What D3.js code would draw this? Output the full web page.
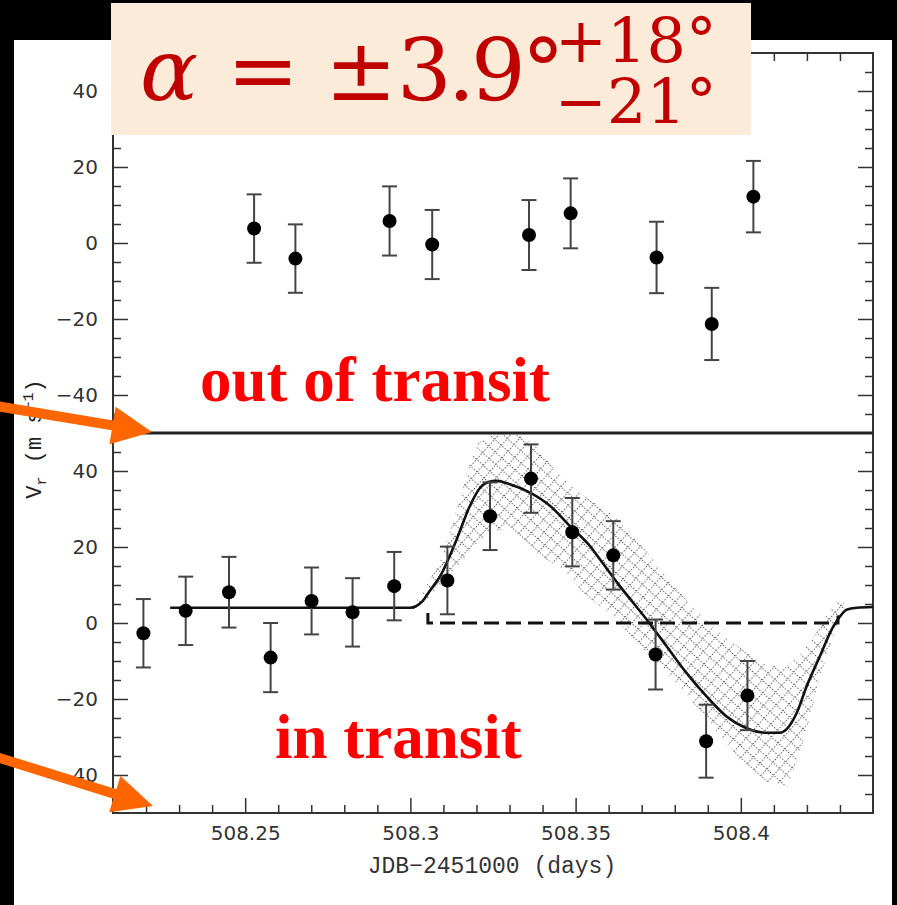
<!DOCTYPE html>
<html>
<head>
<meta charset="utf-8">
<script src="https://cdn.jsdelivr.net/npm/d3@7"></script>
<style>
  html, body { margin: 0; padding: 0; background: #000; }
  svg { display: block; }
</style>
</head>
<body>
<svg id="chart" width="897" height="905"></svg>
<script>
// ---- Radial velocities outside the transit (top panel) ----
const outTimes = [508.2527, 508.2652, 508.2937, 508.3066, 508.3359, 508.3485, 508.3745, 508.3912, 508.4038];
const outVel   = [3.8, -4.1, 5.8, -0.4, 2.1, 7.8, -3.8, -21.3, 12.2];
const outErr   = [9.0, 9.0, 9.1, 9.1, 9.2, 9.2, 9.4, 9.5, 9.4];

// ---- Radial velocities during the transit (bottom panel) ----
const inTimes = [508.2192, 508.2320, 508.2451, 508.2577, 508.2701, 508.2825, 508.2951, 508.3112,
                 508.3241, 508.3365, 508.3490, 508.3614, 508.3742, 508.3895, 508.4020];
const inVel   = [-2.7, 3.2, 8.1, -9.1, 5.8, 2.8, 9.7, 11.2, 28.1, 38.0, 23.9, 17.8, -8.3, -31.1, -19.1];
const inErr   = [9.0, 9.0, 9.3, 9.1, 8.8, 9.0, 9.0, 8.9, 8.9, 9.0, 9.0, 9.0, 9.2, 9.6, 9.1];

// ---- Best-fit Rossiter-McLaughlin model ----
const modelTimes = [508.2273, 508.2666, 508.2999, 508.3017, 508.3035, 508.3059, 508.3090, 508.3140,
                    508.3180, 508.3211, 508.3236, 508.3261, 508.3301, 508.3362, 508.3423, 508.3483,
                    508.3544, 508.3574, 508.3634, 508.3715, 508.3776, 508.3836, 508.3897, 508.3957,
                    508.4018, 508.4078, 508.4118, 508.4138, 508.4169, 508.4199, 508.4239, 508.4280,
                    508.4300, 508.4320, 508.4351, 508.4400];
const modelVel   = [4.0, 4.0, 4.0, 4.4, 5.6, 8.5, 12.3, 22.0, 30.8, 35.6, 37.1, 37.4, 36.5, 34.3, 30.8, 25.5,
                    20.2, 16.7, 9.7, 0.9, -6.2, -13.2, -19.4, -24.6, -27.7, -28.9, -28.9, -28.0, -23.7, -16.7,
                    -8.8, -0.9, 1.7, 3.5, 4.0, 4.2];

// ---- Envelope of the model family (uncertainty mesh) ----
const bandUpperT = [508.2999, 508.3044, 508.3090, 508.3129, 508.3156, 508.3180, 508.3205, 508.3241, 508.3286,
                    508.3332, 508.3377, 508.3441, 508.3522, 508.3604, 508.3686, 508.3764, 508.3855, 508.3937,
                    508.4019, 508.4079, 508.4134, 508.4179, 508.4225, 508.4264, 508.4294, 508.4324];
const bandUpperV = [3.0, 9.3, 16.2, 26.7, 34.6, 42.3, 47.3, 49.5, 49.6, 49.4, 46.8, 39.9, 33.6, 29.1, 22.0,
                    13.3, 4.0, -2.6, -7.8, -11.0, -11.8, -8.4, -3.1, 3.0, 6.1, 4.6];
const bandLowerT = [508.2999, 508.3059, 508.3120, 508.3190, 508.3250, 508.3301, 508.3341, 508.3392, 508.3462,
                    508.3522, 508.3613, 508.3716, 508.3816, 508.3916, 508.3998, 508.4079, 508.4140, 508.4179,
                    508.4209, 508.4240, 508.4279, 508.4306, 508.4324];
const bandLowerV = [3.0, 6.7, 12.2, 20.1, 24.1, 25.1, 22.0, 17.7, 14.1, 8.0, 1.7, -7.8, -16.8, -27.3, -36.0,
                    -41.8, -43.0, -34.2, -24.7, -14.2, -3.6, 3.0, 4.6];

// ---- Reference (no-anomaly) level during the transit ----
const refTimes = [508.3053, 508.3053, 508.4294, 508.4294];
const refVel   = [2.6, 0, 0, 2.0];

// ---- Axis ticks ----
const xMajorTicks = [508.25, 508.3, 508.35, 508.4];
const xMinorTicks = [508.22, 508.23, 508.24, 508.26, 508.27, 508.28, 508.29, 508.31, 508.32, 508.33,
                     508.34, 508.36, 508.37, 508.38, 508.39, 508.41, 508.42, 508.43];
const yMajorTicks = [-40, -20, 0, 20, 40];
const yMinorTicks = [-45, -35, -30, -25, -15, -10, -5, 5, 10, 15, 25, 30, 35, 45];

const W = 897, H = 905;
const svg = d3.select("#chart");

// Page backdrop
svg.append("rect").attr("width", W).attr("height", H).attr("fill", "#000");
svg.append("rect").attr("x", 14).attr("y", 40).attr("width", 878).attr("height", H - 40).attr("fill", "#fff");

// Scales: shared time axis, two stacked velocity panels
const x = d3.scaleLinear().domain([508.21, 508.44]).range([113, 873]);
const yTop = d3.scaleLinear().domain([-50, 50]).range([433, 53]);
const yBot = d3.scaleLinear().domain([-50, 50]).range([813, 433]);

const ink = "#333";
const tickFont = "DejaVu Sans";

// Dotted crosshatch used for the model mesh
const defs = svg.append("defs");
const pat = defs.append("pattern")
  .attr("id", "mesh")
  .attr("patternUnits", "userSpaceOnUse")
  .attr("width", 9).attr("height", 9)
  .attr("patternTransform", "rotate(42)");
pat.append("line").attr("x1", 0).attr("y1", 4.5).attr("x2", 9).attr("y2", 4.5)
  .attr("stroke", "#555").attr("stroke-width", 1).attr("stroke-dasharray", "1.3 1.7");
pat.append("line").attr("x1", 4.5).attr("y1", 0).attr("x2", 4.5).attr("y2", 9)
  .attr("stroke", "#555").attr("stroke-width", 1).attr("stroke-dasharray", "1.3 1.7");

// Model envelope
const bandPts = bandUpperT.map((t, i) => [t, bandUpperV[i]])
  .concat(bandLowerT.map((t, i) => [t, bandLowerV[i]]).reverse());
svg.append("path")
  .attr("d", d3.line().x(d => x(d[0])).y(d => yBot(d[1])).curve(d3.curveLinearClosed)(bandPts))
  .attr("fill", "url(#mesh)")
  .attr("stroke", "none");

// Axes helper
function styleAxis(g) {
  g.select(".domain").remove();
  g.selectAll(".tick line").attr("stroke", ink).attr("stroke-width", 1.5);
  g.selectAll(".tick text").attr("fill", ink).attr("font-family", tickFont).attr("font-size", 20);
}

const fmtY = d3.format("d");
const fmtX = d3.format("~f");

[yTop, yBot].forEach(ys => {
  svg.append("g").attr("transform", "translate(113,0)")
    .call(d3.axisLeft(ys).tickValues(yMajorTicks).tickSize(-15).tickPadding(15).tickFormat(fmtY))
    .call(styleAxis);
  svg.append("g").attr("transform", "translate(113,0)")
    .call(d3.axisLeft(ys).tickValues(yMinorTicks).tickSize(-8).tickFormat(""))
    .call(styleAxis);
  svg.append("g").attr("transform", "translate(873,0)")
    .call(d3.axisRight(ys).tickValues(yMajorTicks).tickSize(-15).tickFormat(""))
    .call(styleAxis);
  svg.append("g").attr("transform", "translate(873,0)")
    .call(d3.axisRight(ys).tickValues(yMinorTicks).tickSize(-8).tickFormat(""))
    .call(styleAxis);
});

svg.append("g").attr("transform", "translate(0,813)")
  .call(d3.axisBottom(x).tickValues(xMajorTicks).tickSize(-15).tickPadding(13).tickFormat(fmtX))
  .call(styleAxis);
svg.append("g").attr("transform", "translate(0,813)")
  .call(d3.axisBottom(x).tickValues(xMinorTicks).tickSize(-8).tickFormat(""))
  .call(styleAxis);
svg.append("g").attr("transform", "translate(0,53)")
  .call(d3.axisTop(x).tickValues(xMajorTicks).tickSize(-15).tickFormat(""))
  .call(styleAxis);
svg.append("g").attr("transform", "translate(0,53)")
  .call(d3.axisTop(x).tickValues(xMinorTicks).tickSize(-8).tickFormat(""))
  .call(styleAxis);

// Frame and panel divider
svg.append("rect").attr("x", 113).attr("y", 53).attr("width", 760).attr("height", 760)
  .attr("fill", "none").attr("stroke", ink).attr("stroke-width", 2);
svg.append("line").attr("x1", 113).attr("x2", 873).attr("y1", yBot(50)).attr("y2", yBot(50))
  .attr("stroke", "#222").attr("stroke-width", 3);

// Reference level (dashed)
svg.append("path")
  .attr("d", d3.line().x((d, i) => x(refTimes[i])).y((d, i) => yBot(refVel[i]))(refVel))
  .attr("fill", "none").attr("stroke", "#111").attr("stroke-width", 3)
  .attr("stroke-dasharray", "15 7");

// Model curve
svg.append("path")
  .attr("d", d3.line().x((d, i) => x(modelTimes[i])).y((d, i) => yBot(modelVel[i]))
    .curve(d3.curveMonotoneX)(modelVel))
  .attr("fill", "none").attr("stroke", "#111").attr("stroke-width", 2.6);

// Data points with error bars
function drawPoints(times, vel, err, ys) {
  const g = svg.append("g");
  const pts = times.map((t, i) => ({ t, v: vel[i], e: err[i] }));
  const bars = g.selectAll("g.eb").data(pts).join("g").attr("class", "eb")
    .attr("stroke", "#444").attr("stroke-width", 2);
  bars.append("line").attr("x1", d => x(d.t)).attr("x2", d => x(d.t))
    .attr("y1", d => ys(d.v - d.e)).attr("y2", d => ys(d.v + d.e));
  bars.append("line").attr("x1", d => x(d.t) - 7.5).attr("x2", d => x(d.t) + 7.5)
    .attr("y1", d => ys(d.v + d.e)).attr("y2", d => ys(d.v + d.e));
  bars.append("line").attr("x1", d => x(d.t) - 7.5).attr("x2", d => x(d.t) + 7.5)
    .attr("y1", d => ys(d.v - d.e)).attr("y2", d => ys(d.v - d.e));
  g.selectAll("circle").data(pts).join("circle")
    .attr("cx", d => x(d.t)).attr("cy", d => ys(d.v)).attr("r", 7).attr("fill", "#000");
}
drawPoints(outTimes, outVel, outErr, yTop);
drawPoints(inTimes, inVel, inErr, yBot);

// Axis titles
svg.append("text")
  .attr("x", 492).attr("y", 873)
  .attr("text-anchor", "middle")
  .attr("font-family", "Liberation Mono").attr("font-size", 23).attr("fill", ink)
  .text("JDB\u22122451000 (days)");

const yTitle = svg.append("text")
  .attr("transform", "translate(41,439) rotate(-90)")
  .attr("text-anchor", "middle")
  .attr("font-family", "Liberation Mono").attr("font-size", 22).attr("fill", "#222");
yTitle.append("tspan").text("V");
yTitle.append("tspan").attr("font-size", 15).attr("dy", 5).text("r");
yTitle.append("tspan").attr("dy", -5).text(" (m s");
yTitle.append("tspan").attr("font-size", 15).attr("dy", -8).text("\u22121");
yTitle.append("tspan").attr("dy", 8).text(")");

// Panel labels
svg.append("text").attr("x", 200).attr("y", 401)
  .attr("font-family", "Liberation Serif").attr("font-weight", "bold").attr("font-size", 63)
  .attr("fill", "#ff0000").text("out of transit");
svg.append("text").attr("x", 275).attr("y", 758)
  .attr("font-family", "Liberation Serif").attr("font-weight", "bold").attr("font-size", 63)
  .attr("fill", "#ff0000").text("in transit");

// Result box: spin-orbit angle with asymmetric uncertainties
svg.append("rect").attr("x", 111).attr("y", 3).attr("width", 640).attr("height", 132).attr("fill", "#fdebda");
const red = "#c00000";
function formula(txt, xPos, base, size, opts = {}) {
  const t = svg.append("text").attr("x", xPos).attr("y", base)
    .attr("text-anchor", opts.anchor || "start")
    .attr("font-family", "DejaVu Serif").attr("font-size", size)
    .attr("font-style", opts.italic ? "italic" : "normal").attr("fill", red).text(txt);
  if (opts.spacing) t.attr("letter-spacing", opts.spacing);
  return t;
}
formula("\u03b1", 169, 100, 86, { anchor: "middle", italic: true });
formula("=", 263, 100, 86, { anchor: "middle" });
formula("\u00b1", 361, 100, 86, { anchor: "middle" });
formula("3.9\u00b0", 397, 100, 86, { spacing: -4 });
// Stacked upper / lower error bounds
const bounds = svg.append("text")
  .attr("font-family", "DejaVu Serif").attr("font-size", 62).attr("fill", red);
bounds.append("tspan").attr("x", 555).attr("y", 62).text("+18\u00b0");
bounds.append("tspan").attr("x", 555).attr("y", 123).text("\u221221\u00b0");

// Pointer arrows to the two panels
function arrow(x0, y0, x1, y1) {
  const dx = x1 - x0, dy = y1 - y0, L = Math.hypot(dx, dy);
  const ux = dx / L, uy = dy / L, nx = -uy, ny = ux;
  const hl = 40, hw = 19, sw = 5;
  const bx = x1 - hl * ux, by = y1 - hl * uy;
  const pts = [
    [x0 + nx * sw, y0 + ny * sw],
    [bx + nx * sw, by + ny * sw],
    [bx + nx * hw, by + ny * hw],
    [x1, y1],
    [bx - nx * hw, by - ny * hw],
    [bx - nx * sw, by - ny * sw],
    [x0 - nx * sw, y0 - ny * sw]
  ];
  svg.append("path").attr("d", "M" + pts.map(p => p.join(",")).join("L") + "Z").attr("fill", "#ff6600");
}
arrow(-10, 405, 152, 432);
arrow(-10, 755, 153, 806);
</script>
</body>
</html>
